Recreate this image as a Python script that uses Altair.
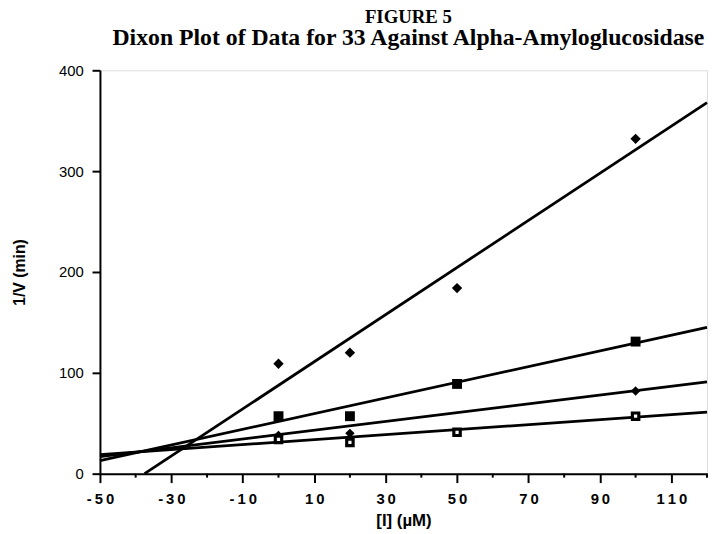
import altair as alt
import pandas as pd

# Inhibitor concentrations [I] (uM) at which points were measured
x_levels = [0, 20, 50, 100]
# 1/V (min) for the four substrate series
s1 = [109, 120, 184, 332]     # filled diamonds (steep)
s2 = [57, 57, 89, 131]        # filled squares
s3 = [38, 40, None, 82]       # small filled diamonds
s4 = [34, 31, 41, 57]         # open squares

# fitted lines: start and end points
line_x0 = [-37.5, -50, -50, -50]
line_y0 = [0, 13, 17, 19]
line_x1 = [120, 120, 120, 120]
line_y1 = [368, 145, 91, 61]

x_tick_values = [-50, -30, -10, 10, 30, 50, 70, 90, 110]
x_minor_values = [-40, -20, 0, 20, 40, 60, 80, 100, 120]
y_tick_values = [0, 100, 200, 300, 400]

series_names = ["s1", "s2", "s3", "s4"]
series_vals = [s1, s2, s3, s4]

rows = []
for name, vals in zip(series_names, series_vals):
    for xv, yv in zip(x_levels, vals):
        if yv is not None:
            rows.append({"series": name, "x": xv, "y": yv})
pts = pd.DataFrame(rows)

lrows = []
for name, a, b, c, d in zip(series_names, line_x0, line_y0, line_x1, line_y1):
    lrows.append({"series": name, "x": a, "y": b, "o": 0})
    lrows.append({"series": name, "x": c, "y": d, "o": 1})
lines_df = pd.DataFrame(lrows)

minor_df = pd.DataFrame({"x": x_minor_values})

W, H = 614, 408

xscale = alt.Scale(domain=[-50, 120], nice=False, zero=False)
yscale = alt.Scale(domain=[0, 400], nice=False, zero=False)

x_axis = alt.Axis(
    values=x_tick_values,
    title="[I]  (µM)",
    titleFont="Liberation Sans", titleFontSize=17, titleFontWeight="bold",
    titleColor="black", titleY=47, titleBaseline="middle",
    labelFont="Liberation Sans", labelFontSize=15, labelFontWeight="bold",
    labelColor="black", labelPadding=9, labelFlush=False,
    labelExpr="join(split(toString(datum.value), ''), '\u2009')",
    tickSize=9, tickWidth=2, tickColor="black",
    domainColor="black", domainWidth=2, grid=False,
)
y_axis = alt.Axis(
    values=y_tick_values,
    title="1/V  (min)",
    titleFont="Liberation Sans", titleFontSize=16, titleFontWeight="bold",
    titleColor="black", titleX=-81, titleY=H / 2, titleAngle=270,
    titleBaseline="middle", titleAlign="center",
    labelFont="Liberation Sans", labelFontSize=15,
    labelColor="black", labelPadding=9, labelFlush=False,
    tickSize=8, tickWidth=2, tickColor="black",
    domainColor="black", domainWidth=2, grid=False,
)

lines = alt.Chart(lines_df).mark_line(color="black", strokeWidth=2.8).encode(
    x=alt.X("x:Q", scale=xscale, axis=x_axis),
    y=alt.Y("y:Q", scale=yscale, axis=y_axis),
    detail="series:N",
    order="o:Q",
)

filled = alt.Chart(pts).transform_filter(
    alt.datum.series != "s4"
).mark_point(filled=True, color="black", opacity=1).encode(
    x=alt.X("x:Q", scale=xscale, axis=x_axis),
    y=alt.Y("y:Q", scale=yscale, axis=y_axis),
    shape=alt.Shape("series:N",
                    scale=alt.Scale(domain=["s1", "s2", "s3"],
                                    range=["diamond", "square", "diamond"]),
                    legend=None),
    size=alt.Size("series:N",
                  scale=alt.Scale(domain=["s1", "s2", "s3"], range=[110, 90, 80]),
                  legend=None),
)

opensq = alt.Chart(pts).transform_filter(
    alt.datum.series == "s4"
).mark_point(shape="square", fill="white", stroke="black", strokeWidth=3.2,
             size=42, opacity=1, fillOpacity=1).encode(
    x=alt.X("x:Q", scale=xscale, axis=x_axis),
    y=alt.Y("y:Q", scale=yscale, axis=y_axis),
)

minor = alt.Chart(minor_df).mark_rule(color="black", strokeWidth=2).encode(
    x=alt.X("x:Q", scale=xscale, axis=x_axis),
    y=alt.value(H),
    y2=alt.value(H + 4),
)

chart = alt.layer(lines, minor, filled, opensq).properties(
    width=W, height=H,
    autosize=alt.AutoSizeParams(type="none"),
    padding={"left": 93, "top": 60, "right": 1, "bottom": 58},
    title=alt.TitleParams(
        text="FIGURE 5",
        subtitle="Dixon Plot of Data for 33 Against Alpha-Amyloglucosidase",
        font="Liberation Serif", fontSize=19, fontWeight="bold", color="black",
        subtitleFont="Liberation Serif", subtitleFontSize=24,
        subtitleFontWeight="bold", subtitleColor="black", subtitlePadding=-1,
        anchor="middle", offset=14, dx=5,
    ),
).configure_view(stroke=None).configure(background="white")

chart.save("out.html", embed_options={"renderer": "svg", "actions": False})
